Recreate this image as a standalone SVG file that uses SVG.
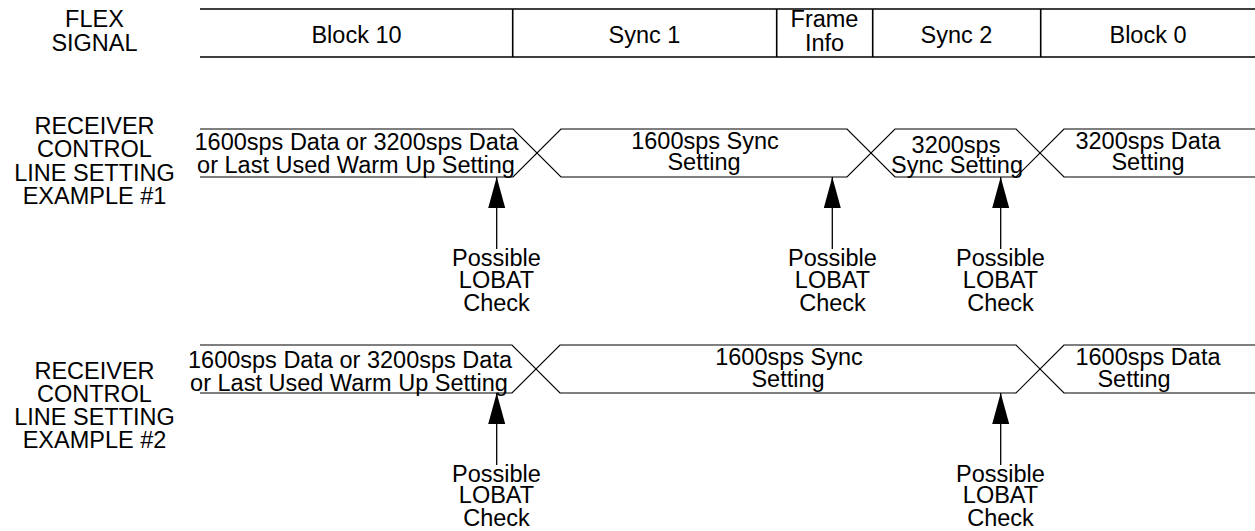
<svg xmlns="http://www.w3.org/2000/svg" width="1255" height="531" viewBox="0 0 1255 531">
<style>
  text { font-family: "Liberation Sans", Arial, Helvetica, sans-serif; font-size: 23.5px; fill: #000; text-anchor: middle; }
  .box { fill: none; stroke: #000; stroke-width: 1.6; }
  .wave { fill: none; stroke: #000; stroke-width: 1.2; stroke-linejoin: miter; }
  .arrow { fill: none; stroke: #000; stroke-width: 1.3; marker-end: url(#ah); }
</style>
<defs>
  <marker id="ah" markerUnits="userSpaceOnUse" markerWidth="32" markerHeight="18" refX="31" refY="8.5" orient="auto">
    <path d="M0,0 L31,8.5 L0,17 Z" fill="#000"/>
  </marker>
</defs>
<rect width="1255" height="531" fill="#fff"/>

<g id="flex-signal-label">
  <text x="94.5" y="26.7">FLEX</text>
  <text x="94.5" y="51">SIGNAL</text>
</g>
<g id="flex-signal">
  <path class="box" d="M200,9 H1255 M200,57 H1255 M512.7,9 V57 M776.7,9 V57 M872.7,9 V57 M1040.7,9 V57"/>
  <text x="356.5" y="42.5">Block 10</text>
  <text x="644.5" y="42.5">Sync 1</text>
  <text x="824.5" y="26.5">Frame</text>
  <text x="824.5" y="50.5">Info</text>
  <text x="956.5" y="42.5">Sync 2</text>
  <text x="1148" y="42.5">Block 0</text>
</g>

<g id="example1-label">
  <text x="94.5" y="134.3">RECEIVER</text>
  <text x="94.5" y="157.3">CONTROL</text>
  <text x="94.5" y="181">LINE SETTING</text>
  <text x="94.5" y="204.3">EXAMPLE #1</text>
</g>
<g id="example1">
  <path class="wave" d="M200,129 H513 L561,177 H847 L895,129 H1016 L1064,177 H1255"/>
  <path class="wave" d="M200,177 H513 L561,129 H847 L895,177 H1016 L1064,129 H1255"/>
  <text x="356.5" y="150">1600sps Data or 3200sps Data</text>
  <text x="356" y="172.7">or Last Used Warm Up Setting</text>
  <text x="705" y="149.3">1600sps Sync</text>
  <text x="704" y="170">Setting</text>
  <text x="956" y="152.7">3200sps</text>
  <text x="957" y="172.7">Sync Setting</text>
  <text x="1148" y="149.3">3200sps Data</text>
  <text x="1148" y="170">Setting</text>
</g>

<g id="example2-label">
  <text x="94.5" y="378.5">RECEIVER</text>
  <text x="94.5" y="401.5">CONTROL</text>
  <text x="94.5" y="424.5">LINE SETTING</text>
  <text x="94.5" y="447.5">EXAMPLE #2</text>
</g>
<g id="example2">
  <path class="wave" d="M200,345 H512 L560,393 H1016 L1064,345 H1255"/>
  <path class="wave" d="M200,393 H512 L560,345 H1016 L1064,393 H1255"/>
  <text x="350" y="368">1600sps Data or 3200sps Data</text>
  <text x="349" y="391">or Last Used Warm Up Setting</text>
  <text x="789" y="365">1600sps Sync</text>
  <text x="788" y="386.5">Setting</text>
  <text x="1148" y="365">1600sps Data</text>
  <text x="1134" y="386.5">Setting</text>
</g>

<g id="lobat1a"><text x="496.5" y="266">Possible</text><text x="496.5" y="287.5">LOBAT</text><text x="496.5" y="310.5">Check</text></g>
<g id="lobat1b"><text x="832.5" y="266">Possible</text><text x="832.5" y="287.5">LOBAT</text><text x="832.5" y="310.5">Check</text></g>
<g id="lobat1c"><text x="1000.5" y="266">Possible</text><text x="1000.5" y="287.5">LOBAT</text><text x="1000.5" y="310.5">Check</text></g>
<g id="lobat2a"><text x="496.5" y="481.7">Possible</text><text x="496.5" y="503">LOBAT</text><text x="496.5" y="526">Check</text></g>
<g id="lobat2b"><text x="1000.5" y="481.7">Possible</text><text x="1000.5" y="503">LOBAT</text><text x="1000.5" y="526">Check</text></g>

<g id="connectors">
  <line class="arrow" x1="496.7" y1="249" x2="496.7" y2="177"/>
  <line class="arrow" x1="832.3" y1="249" x2="832.3" y2="177"/>
  <line class="arrow" x1="1000.7" y1="249" x2="1000.7" y2="177"/>
  <line class="arrow" x1="496.7" y1="465" x2="496.7" y2="393"/>
  <line class="arrow" x1="1000.7" y1="465" x2="1000.7" y2="393"/>
</g>
</svg>
